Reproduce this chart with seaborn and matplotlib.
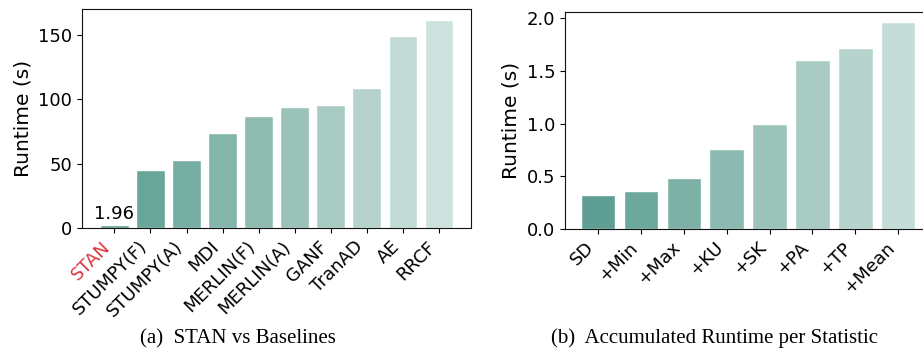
import seaborn as sns
import matplotlib.pyplot as plt
import pandas as pd

# (a) runtime of STAN vs baselines
methods = ['STAN', 'STUMPY(F)', 'STUMPY(A)', 'MDI', 'MERLIN(F)', 'MERLIN(A)',
           'GANF', 'TranAD', 'AE', 'RRCF']
method_runtime = [1.96, 45.1, 52.8, 73.8, 87.0, 94.0, 95.6, 108.8, 149.2, 161.7]

# (b) accumulated runtime per statistic
stats = ['SD', '+Min', '+Max', '+KU', '+SK', '+PA', '+TP', '+Mean']
stat_runtime = [0.322, 0.36, 0.483, 0.758, 0.995, 1.60, 1.716, 1.962]

pal_a = ['#5c9d8f', '#68a69a', '#77aea3', '#84b5ab', '#8fbbb1', '#9bc2b9',
         '#a8cbc3', '#b5d2cc', '#c2dbd6', '#cde2dd']
pal_b = ['#5f9e92', '#6ca89c', '#7db1a5', '#8cbab0', '#9bc3ba', '#a8cbc4',
         '#b7d3cd', '#c5ddd8']

sns.set_style('ticks')
plt.rcParams['font.family'] = ['DejaVu Sans']
plt.rcParams.update({'text.color': 'black', 'axes.labelcolor': 'black',
                     'xtick.color': 'black', 'ytick.color': 'black'})

fig = plt.figure(figsize=(9.23, 3.5), dpi=100)
ax1 = fig.add_axes([0.0888, 0.349, 0.422, 0.625])
ax2 = fig.add_axes([0.612, 0.346, 0.397, 0.620])

df_a = pd.DataFrame({'method': methods, 'runtime': method_runtime})
sns.barplot(data=df_a, x='method', y='runtime', hue='method', palette=pal_a,
            legend=False, width=0.8, ax=ax1, saturation=1)
ax1.set_ylim(0, 170)
ax1.set_xlim(-0.9, 9.9)
ax1.set_yticks([0, 50, 100, 150])
ax1.set_xlabel('')
ax1.set_ylabel('Runtime (s)', fontsize=14.5)
ax1.text(0, method_runtime[0] + 2, f'{method_runtime[0]:.2f}', ha='center',
         va='bottom', fontsize=13)
ax1.set_xticks(range(len(methods)))
ax1.set_xticklabels(methods, rotation=45, ha='right')
ax1.get_xticklabels()[0].set_color('#d9363e')

df_b = pd.DataFrame({'stat': stats, 'runtime': stat_runtime})
sns.barplot(data=df_b, x='stat', y='runtime', hue='stat', palette=pal_b,
            legend=False, width=0.8, ax=ax2, saturation=1)
ax2.set_ylim(0, 2.06)
ax2.set_xlim(-0.77, 7.77)
ax2.set_yticks([0, 0.5, 1.0, 1.5, 2.0])
ax2.set_xlabel('')
ax2.set_ylabel('Runtime (s)', fontsize=14.5)
ax2.set_xticks(range(len(stats)))
ax2.set_xticklabels(stats, rotation=45, ha='right')

for ax in (ax1, ax2):
    ax.tick_params(labelsize=13)
    for s in ax.spines.values():
        s.set_visible(True)
        s.set_color('#111111')

fig.text(0.258, 0.02, '(a)  STAN vs Baselines', ha='center',
         family='Liberation Serif', fontsize=15)
fig.text(0.774, 0.02, '(b)  Accumulated Runtime per Statistic', ha='center',
         family='Liberation Serif', fontsize=15)

fig.savefig('out.png', dpi=100)
